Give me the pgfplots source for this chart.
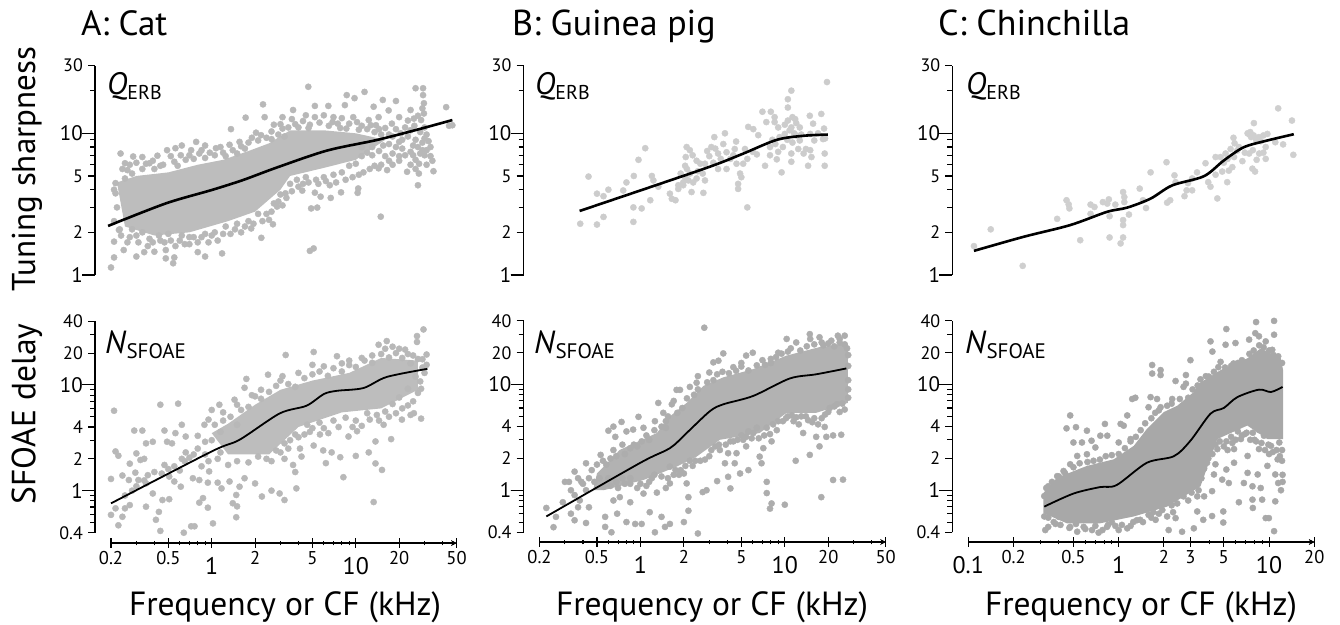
\documentclass[border=0pt]{standalone}
\usepackage{pgfplots}
\usepackage{fontspec}
\setmainfont{PT Sans}
\pgfplotsset{compat=1.18}
\definecolor{gAT}{gray}{0.72}
\definecolor{gATc}{gray}{0.74}
\definecolor{gAB}{gray}{0.72}
\definecolor{gABc}{gray}{0.74}
\definecolor{gBT}{gray}{0.80}
\definecolor{gBB}{gray}{0.68}
\definecolor{gBBc}{gray}{0.70}
\definecolor{gCT}{gray}{0.81}
\definecolor{gCB}{gray}{0.66}
\newcommand\fs[1]{\fontsize{#1}{#1}\selectfont}
\newcommand\Sm[1]{\raisebox{0pt}[14pt][0pt]{\fs{18.5}#1}}
\newcommand\Bg[1]{\raisebox{-10pt}[14pt][0pt]{\fs{24}#1}}
\newcommand\Sy[1]{{\fs{18}#1}}
\newcommand\By[1]{{\fs{21}#1}}
\pgfplotsset{
 rsbase/.style={scale only axis,clip=false,clip mode=individual,
  axis y line=left,
  axis line style={-,line width=1.3pt,black},
  tick style={black,line width=1.1pt},
  tick align=outside,
  xminorticks=false,yminorticks=false,
  major tick length=7pt,
  axis y line shift=16pt,
  extra y tick style={major tick length=13pt},
  yticklabel style={inner sep=0pt,anchor=east,xshift=-5pt},
  xticklabel style={inner sep=0pt,anchor=north,yshift=-4pt},
 },
 rstop/.style={rsbase,width=#1,height=209.3pt,ymin=1,ymax=30,axis x line=none,
  ytick={1,2,5,10,30},yticklabels={\By{1},\Sy{2},\Sy{5},\By{10},\Sy{30}},
  extra y ticks={1,10},extra y tick labels={,}},
 rsbot/.style={rsbase,width=#1,height=211.4pt,ymin=0.4,ymax=40,axis x line=bottom,
  axis x line shift=10.3pt,
  ytick={0.4,1,2,4,10,20,40},yticklabels={\Sy{0.4},\By{1},\Sy{2},\Sy{4},\By{10},\Sy{20},\Sy{40}},
  extra y ticks={1,10},extra y tick labels={,}},
 xab/.style={xmin=0.2,xmax=50},
 xticksab/.style={xtick={0.2,0.5,1,2,5,10,20,50},
  xticklabels={\Sm{0.2},\Sm{0.5},\Bg{1},\Sm{2},\Sm{5},\Bg{10},\Sm{20},\Sm{50}}},
 xc/.style={xmin=0.1,xmax=20},
 xticksc/.style={xtick={0.1,0.2,0.5,1,2,3,5,10,20},
  xticklabels={\Bg{0.1},\Sm{0.2},\Sm{0.5},\Bg{1},\Sm{2},\Sm{3},\Sm{5},\Bg{10},\Sm{20}}},
 overT/.style={ytick={3,4,6,7,8,9,20},yticklabels={},major tick length=5pt},
 overB/.style={ytick={0.5,0.6,0.7,0.8,0.9,3,5,6,7,8,9,30},yticklabels={},major tick length=5pt},
 minorXab/.style={xtick={0.3,0.4,0.6,0.7,0.8,0.9,3,4,6,7,8,9,30,40},xticklabels={}},
 minorXc/.style={xtick={0.3,0.4,0.6,0.7,0.8,0.9,4,6,7,8,9},xticklabels={}},
 longXab/.style={xtick={0.2,0.5,1,2,5,10,20,50},xticklabels={},ytick={1},yticklabels={},major tick length=10pt},
 longXc/.style={xtick={0.1,0.2,0.5,1,2,3,5,10,20},xticklabels={},ytick={1},yticklabels={},major tick length=10pt},
 rsdots/.style={only marks,color=#1,mark=*,mark size=3.1pt,mark options={solid,draw=#1,fill=#1,line width=0.4pt}},
 rscore/.style={fill=#1,draw=none,mark=none},
 fitT/.style={black,line width=2.6pt,mark=none,line join=round,smooth,tension=0.5},
 fitB/.style={black,line width=1.8pt,mark=none,line join=round,smooth,tension=0.5},
}
\begin{document}
\begin{tikzpicture}[x=1pt,y=1pt]
\path[use as bounding box] (0,0) rectangle (1340,624);
% ---------- A top
\begin{loglogaxis}[rstop=345.5pt,xab,at={(111pt,349pt)},anchor=south west]
\addplot[rscore=gATc] coordinates {(.22,4.5)(.3,5)(.5,5.3)(.8,6)(1.2,6.5)(1.8,7.5)(2.5,8.5)(3.5,10.5)(6,10.5)(10,10)(16,9)(10,6.5)(6,5.7)(3.5,5)(3,4)(2,2.8)(1.3,2.4)(.7,2)(.4,1.9)(.25,2.2)} --cycle;
\addplot[rsdots=gAT] coordinates {
(4.68,21.3)(26,20.8)(29.3,20.8)(29.3,18.6)(29.7,16.3)(11.5,19.6)(8.65,18.6)(9.8,17.7)(2.27,16)(1.72,12.9)(1.36,10.7)(2.33,13)(3.1,13)(3.67,14.6)(5.2,15.6)(6.45,15.6)(8.4,15.8)(15.4,17.2)(19,16.9)(13.3,15.4)(16.9,14.5)(20,13)(24,14.6)(42.4,15.3)(44.4,11.3)(46.8,11.4)(7,13)(9.6,13)(12.3,12.4)(14.4,13)(17.8,11.7)(29.7,13.8)(28.4,12.4)(25.3,12.7)
(14.9,2.58)(27,4.3)(34.6,5.4)(27.4,5.2)(22.7,5.35)(14.4,5.66)(11.3,5.3)(10.4,4.08)(10.3,3.8)(7.9,3.83)(6.7,3.5)(5.7,3.57)(5.2,3.81)(5.4,2.99)(4.9,2.95)(5.1,1.54)(4.8,1.48)(4.25,3.94)(3.25,3.77)(2.84,3.04)(2.66,2.28)(2.21,1.83)(1.88,2.13)(1.18,1.42)(.9,1.35)(.8,1.45)(.7,1.65)(.55,1.33)(.54,1.21)(.48,1.31)(.48,1.5)(.4,1.46)(.34,1.45)(.3,1.35)(.245,1.5)(.21,1.33)(.2,1.13)(.21,1.72)(.227,2.08)
(.233,7.2)(.285,6.86)(.33,6.8)(.37,6.15)(.42,6.95)(.49,7.6)(.56,7.85)(.62,8.2)(.78,8.7)(.9,8.2)(1.07,7.85)(.82,7.2)(.61,7)(.25,6.15)(.26,5.5)(.215,4.45)(.215,3.77)(1.33,8.3)(1.56,8.7)(2.03,10.1)(2.6,10.3)(3.1,10.8)
(.22,3)(.21,4)(.25,4.8)(.28,5.2)(.33,5.6)(.4,5.6)(.46,6)(.55,6.3)(.66,6.5)(.75,6.6)(.9,6.7)(1.05,7)(1.2,7.3)(1.4,7.6)(1.6,8.1)(1.8,8.6)(2.1,8.9)(2.4,9.3)(2.9,9.8)(3.4,11)(3.8,11.6)(4.3,12.2)(4.8,11.5)(5.6,11.9)(6.5,11.3)(7.5,11.7)(8.6,10.8)(10.5,10.6)(12,10.7)(13.5,10.2)(15,9.8)(18,9.5)(20,8.7)(23,9.5)(26,9)(27,8)(29,7.6)(30,7)(33,6.9)(34,6.4)(26,6.5)(27.5,6.1)(28,7.2)(22,7)(18,7.2)(16,6.9)(15.5,8.2)(13,8)(12,7.3)(11,6.9)(10,6.1)(9,5.9)(8,5.3)(7,5.1)(6,4.9)(5.3,4.7)(4.5,4.9)(3.9,4.7)(3.5,4.4)(3,3.7)(2.7,3.2)(2.4,2.7)(2.1,2.7)(1.8,2.4)(1.5,2.3)(1.25,2.2)(1.05,2)(.9,1.95)(.75,1.85)(.62,1.9)(.52,1.75)(.44,1.75)(.37,1.8)(.31,1.7)(.27,1.85)(.235,1.9)
(.21,2.4)(.23,2.1)(.26,1.7)(.28,2.1)(.3,1.9)(.33,2)(.36,1.6)(.39,1.7)(.43,1.9)(.47,1.7)(.5,1.95)(.56,1.6)(.6,1.75)(.65,1.65)(.7,1.85)(.8,1.7)(.85,1.85)(.95,1.7)(1,1.9)(1.1,1.75)(1.2,1.95)(1.35,1.95)(1.45,2.1)(1.6,2)(1.7,2.2)(1.95,2.3)(2.25,2.4)(2.5,2.45)(2.6,2.8)(2.9,3.3)(3.1,3.1)(3.3,3.5)(3.6,3.9)(4,4.2)(4.3,4.4)(4.7,4.5)(5.5,4.4)(6.2,4.6)(6.6,4.3)(7.3,4.5)(8.5,4.7)(9.5,4.9)(10.5,5.1)(12.5,5.6)(13.5,5.9)(15,6)(16.5,5.5)(18,6)(20,6.4)(21,7.8)(24,7.4)(25,8.2)(31,7.6)(32,8.8)(30,9.2)(33,8)
(.24,5.6)(.27,6)(.3,6.2)(.35,6.1)(.39,6.4)(.44,5.9)(.52,6.9)(.58,5.9)(.7,7)(.72,7.6)(.85,7.6)(.97,7.3)(1.15,8)(1.25,6.9)(1.5,7.2)(1.7,7.8)(1.9,9.3)(2.2,9.7)(2.6,9.1)(2.7,11.5)(3,11.6)(3.2,9.5)(3.6,12.6)(4,11)(4.5,13.4)(4.7,10.9)(5.2,13)(6,13.4)(6.9,12)(7.8,10.9)(8,12.8)(9,11.7)(10.2,12)(11,11.3)(12.7,11.4)(13.8,11.4)(14.5,10.7)(16,10.9)(17,9.8)(19,10.7)(20.5,10)(22,11)(24,10.5)(25.5,11.3)(28,10.2)(30,11)(31,9.8)(27,13.3)(29,15)(23,12.3)
(11,8)(13,7)(14.5,7.5)(17,8.4)(19,8)(21,9)(25,7)(29,8.6)(31,6)(26,5.6)(24,6)(17,6.4)(20,6.9)
};
\addplot[fitT] coordinates {(.191,2.22)(.48,3.2)(1,3.98)(1.65,4.68)(2.81,5.72)(6.3,7.55)(14,8.97)(26.6,10.6)(46.8,12.4)};
\end{loglogaxis}
\begin{loglogaxis}[rstop=345.5pt,xab,overT,at={(111pt,349pt)},anchor=south west]
\end{loglogaxis}
% ---------- A bottom
\begin{loglogaxis}[rsbot=345.5pt,xab,xticksab,at={(111pt,91.3pt)},anchor=south west]
\addplot[rscore=gABc] coordinates {(1,3.5)(1.3,4.3)(2,6.5)(3,9)(5,11)(9,13)(15,18)(27,17)(27,9)(15,6)(8,5.5)(4,4)(2.5,2.2)(1.3,2.2)} --cycle;
\addplot[rsdots=gAB] coordinates {
(.21,5.7)(.44,6.5)(.585,6.65)(.29,3.7)(.33,3.7)(.47,3.7)(.62,4.2)(.56,3.5)(.66,3.25)(.35,2.8)(.39,2.9)(.49,2.9)(.53,2.8)(.215,2.35)(.225,2.14)(.3,2.25)(.34,2)(.32,1.95)(.27,1.8)(.295,1.48)(.2,1.29)(.24,1.39)(.266,1.26)(.31,1.26)(.35,1.17)(.47,1.75)(.507,1.36)(.55,1.22)(.61,1.09)(.74,1.31)(.82,1.26)(.94,1.19)(.96,1.52)(1.1,1.19)(1.17,1.05)(1.33,1.22)(1.56,1.09)(1.69,1.31)(2,1.17)(2.6,1)(2.96,.94)(2.23,.88)(3.2,.815)(1.48,.91)(1.4,.76)(1.5,.71)(1.48,.56)(1.02,.49)(.76,.46)(.72,.46)(.64,.4)(.44,.416)(.41,.53)(.43,.63)(.455,.815)(.507,.83)(.39,.94)(.35,.705)(.27,.73)(.25,.68)(.215,.68)(.2,.59)(.24,.566)(.225,.47)(.94,.69)(.82,.77)(.87,.85)
(13.3,.78)(15.2,1.57)(13.7,1.81)(12.3,2.3)(13.7,2.92)(8.2,1.34)(10,2.13)(6.2,1.82)(7.8,2.07)(6.8,2.3)(5.94,2.4)(5.1,2.67)(3.87,1.05)(3.8,1.5)(3.67,1.75)(4.2,2.1)(4.1,2.5)(3.2,2)(4.8,3.6)(5.64,3.4)(6.45,3.5)(8.9,3.25)(10.2,3.65)(15.6,4.2)(17.6,3.07)(20.9,4.7)(28.4,4.8)(25.3,5.4)(28.4,9.2)(31,19.4)(29.5,33.5)(26.6,29)(26.6,25.5)(16.4,26)(14.4,24)(22,21.6)(7.4,18.7)(5.1,20.5)(3.26,19.2)(2.46,12.5)(3.1,12.1)(1.74,11.4)(2,7.8)(1.69,9.4)(1.44,7.25)(1.13,6.5)(1,5.8)(.89,4.2)
(1,3)(1.05,4.2)(1.15,3.6)(1.2,4.6)(1.35,5)(1.5,4.2)(1.6,5.8)(1.8,6.2)(2.2,7.4)(2.5,8.6)(2.8,9.8)(3.4,10.2)(3.8,9.6)(4.4,11.6)(5,12.6)(5.6,13.4)(6.4,12.2)(7,14.4)(8,13.4)(9,15.4)(10,14.8)(11.5,17)(13,16.2)(15,19.6)(17,18.2)(19,20)(21,18)(24,16)(27,17.6)(29,14.6)(26,12)(28,10.8)(23,9.2)(20,7.6)(18,6.6)(16,5.6)(14,5.2)(12,5.4)(10,4.6)(8.5,4.9)(7,4.6)(5.6,4.4)(4.6,4.2)(3.8,3.4)(3.2,2.8)(2.8,2.4)(2.4,2)(2.1,2.1)(1.8,1.85)(1.5,1.9)(1.3,1.75)(1.1,2)(.95,1.9)(1.15,2.3)
(.25,.9)(.28,1)(.3,1.1)(.34,1.25)(.36,1.4)(.4,1.5)(.45,1.45)(.5,1.6)(.55,1.7)(.6,1.55)(.62,2)(.66,2.3)(.7,2.05)(.75,2.2)(.8,2.5)(.85,1.7)(.9,2.2)(.65,1.9)
(2.6,1.9)(3,2.3)(3.4,2.5)(3.5,3)(4,3.2)(4.4,3.4)(5,3.9)(6,3.9)(7.6,4)(9.5,4)(11,4.1)(12.5,4.7)(14.5,4.6)(17,5)(19,5.4)(21,6)(23,6.4)(25,7)(27,8.4)(24,5.2)(30,13)(31,15.5)(29,17.5)(25,19)(23,19.6)(20,22)(18,23)(16,22)(13,19)(11,18)(9,17)(8,16)(6,15)(5,15.5)(4,13)(3,11)(2.2,9)(1.9,8)(1.5,6.5)(1.2,5.5)(.95,4.7)(.8,3.3)(.9,2.9)
};
\addplot[fitB] coordinates {(.2,.758)(1,2.35)(1.56,3.03)(2.96,5.37)(4.55,6.36)(6,8.2)(7.4,8.8)(11.3,9.35)(16.4,11.9)(31.4,14.2)};
\end{loglogaxis}
\begin{loglogaxis}[rsbot=345.5pt,xab,overB,minorXab,at={(111pt,91.3pt)},anchor=south west]
\end{loglogaxis}
\begin{loglogaxis}[rsbot=345.5pt,xab,longXab,at={(111pt,91.3pt)},anchor=south west]
\end{loglogaxis}
% ---------- B top
\begin{loglogaxis}[rstop=346.2pt,xab,at={(539.5pt,349pt)},anchor=south west]
\addplot[rsdots=gBT] coordinates {
(.383,2.3)(.5,2.27)(.555,2.57)(.894,2.37)(.437,4.95)(.5,3.75)(.6,4)(.555,3.6)(.894,3)(1.02,2.95)(1.17,3.37)(1.6,3.75)(1.65,3.45)(1.75,3.37)(1.83,4.05)(1.98,4.3)(2.26,3.85)(2.73,3.8)(2.8,4.65)(.76,3.95)(.8,4.5)(.9,5)(.97,6.5)(1.08,7.85)(1.2,5)(1.23,4.65)(1.33,4.2)(2.09,8)(2.06,6.8)(2.04,5.9)(2.2,7.6)(2.3,7)(2.45,6.4)(2.6,6.1)(2.8,6.1)(2.04,4.9)(2.15,4.65)(2.32,4.5)(2.45,4.8)(1.98,4.5)(1.83,4.3)(3.25,9.4)(3.85,10)(3.1,8)(3,6.9)(3.45,7.2)(3.75,8.4)(4.6,8.75)(4.5,7.75)(3.95,7.35)(3.45,5.6)(3.95,5.6)(4.63,6.1)(5.15,6.1)(5.3,7.75)(4.9,5.2)(5,4.9)(4.75,4.4)(4.75,4.05)(5.5,3)(5.58,11.1)(6.05,10.7)(6.55,9.7)(7,14.2)(8,14.2)(7.3,5.9)(6.4,7.1)(7.45,12)(8.5,12)(8.5,13)(9,11)(9.5,5.3)(8.8,6.55)(10.5,17.4)(10.5,15.2)(11.1,20)(10.5,12.3)(11.8,12.6)(12.7,11)(11.1,11)(10,9.9)(11.1,6.3)(11.1,7.2)(14.5,5.9)(14.9,13.3)(17.9,13.7)(15.7,11.7)(18.9,5.9)(18.9,7.2)(19.6,23)(18.7,10.8)(14,7.75)(12.4,7.75)(12.7,8.9)(16,8.9)(18.4,9.1)(7.9,8)(7.9,7)(9.7,8)
(10,11.5)(10.8,10.5)(11.6,10)(12.2,9.6)(10.4,9)(11.3,8.6)(9.2,9.4)(8.6,8.4)(8.2,9)(9,7.4)(13.5,7.2)(15,7.6)(15.3,6.8)(13,9.8)(15,9.9)(17,10)(19,9.2)(11.3,13)(12,11.8)
(2.5,5.4)(2.2,5.2)(1.9,5.2)(2.1,5.6)(2.7,5.2)(3.2,6.2)(3.6,6.6)(4.2,6.6)(4.4,7)(3.3,7.8)(2.9,7.5)(5.5,6.6)(6,7.4)
};
\addplot[fitT] coordinates {(.379,2.83)(2.73,5.6)(5,7.1)(8.76,8.98)(13.4,9.6)(19.9,9.8)};
\end{loglogaxis}
\begin{loglogaxis}[rstop=346.2pt,xab,overT,at={(539.5pt,349pt)},anchor=south west]
\end{loglogaxis}
% ---------- B bottom
\begin{loglogaxis}[rsbot=346.2pt,xab,xticksab,at={(539.5pt,91.7pt)},anchor=south west,axis x line shift=9.7pt]
\addplot[rscore=gBBc] coordinates {(.5,1.44)(.72,2.41)(1.3,3.48)(1.6,5)(2.09,6.7)(2.73,9.7)(3.75,11.7)(6.04,14)(10.3,18.8)(17.4,22.6)(27.3,24.3)(27.3,6.7)(16.5,5.4)(10.3,5.4)(6.7,3.48)(3.55,3)(2.45,2.08)(1.78,1.67)(1.05,1.25)(.555,1)(.47,1)} --cycle;
\addplot[rsdots=gBB] coordinates {
(2.77,34.5)(14.9,30)(10.3,27)(17.4,28)(23.3,29)(26,29)(3.75,19.7)(5.4,18.8)(6,20)(3.2,16.2)(3.47,16.8)(2.45,10.4)(1.88,8.9)(1.78,8.9)(1.65,6.5)(1.33,6.7)(.97,4.95)(1.44,5.4)(1.26,4.5)(1.05,3.9)(.89,3.75)(.74,4.43)(.65,4)(.6,3.66)(.67,3.2)(.8,3.6)
(.223,.68)(.25,.447)(.29,.77)(.32,1.2)(.35,1.5)(.42,1.8)(.53,2.16)(.65,2.4)(.26,.56)(.33,.6)(.35,.52)(.42,.49)(.37,.69)(.44,.69)(.57,.56)(.57,.45)(.63,.4)(.69,.6)(.8,.5)(.92,.48)(1.02,.48)(1.26,.4)(1.48,.45)(1.6,.48)(2,.5)(2.5,.39)(1.4,.56)(1.16,.62)(2.15,.64)(2.15,.86)(2.7,.96)(2.87,1)(3.4,1.22)(4.2,1.04)(4.05,1.34)(4.9,1.44)(5.6,1.55)(3.85,1.8)(4.5,1.8)(4.63,2.24)(4.05,2.24)(3.55,2.4)(7.5,1.2)(7.5,.94)(8.1,.75)(7.9,.67)(10,.73)(17.9,.86)(21.6,1.25)(25.3,1.26)(11.9,1.9)(14.9,2.16)(17.4,2.6)(16.5,3.2)(18.9,3.97)(19.4,3.2)(21.6,3.3)(24.6,3.35)(13.4,3.48)(6.9,1.8)(6.7,2.08)(7.1,2.5)(8.1,2.9)(5.4,2.6)(5.15,3)(6.05,3.48)(2,1.44)(2.09,1.16)(1.6,1.67)(1.6,1.16)(1.05,.93)(.85,.77)(.72,.86)(.65,.8)(.555,1.08)(.38,.8)(.42,1)
(.3,1.2)(.33,1)(.37,1.3)(.4,1.15)(.46,1.55)(.5,1.75)(.55,1.9)(.62,1.1)(.7,1.05)(.75,1.3)(.85,1.15)(.95,1.05)(1.1,1.1)(1.2,1.3)(1.3,.95)(1.5,1.05)(1.7,1.4)(1.9,1.55)(2.3,1.7)(2.6,1.9)(3,2.1)(3.3,2.6)(3.9,2.7)(4.4,2.9)(5,3.3)(5.6,3.6)(6.4,3.9)(7.5,3.9)(8.3,4.2)(9,4.5)(10.2,4.8)(11.5,4.5)(12.5,4.2)(14,5)(15.5,4.4)(17,4.2)(18,4.8)(20,5.5)(22,6.2)(24,5.5)(26,5.8)(27.5,7.5)(27.5,9)(27.5,11)(27.5,15)(27.5,19)(27,22)(24,25)(21,26)(18,25)(15,27)(12,25)(11,22)(9,20)(8,17.5)(7,17)(5,16)(4.4,14.6)(3,13)(2.5,12)(2.2,9.5)(1.7,7)(1.5,4.5)(1.1,3.3)(.9,2.7)(.75,2.7)(.58,1.75)
(.62,2)(.68,2.1)(.78,2.2)(.85,2.5)(.95,2.6)(1.02,2.9)(1.15,3)(1.25,3.7)(1.4,4)(1.5,3.9)(1.55,5)(1.8,5.4)(1.95,6)(2.1,7.4)(2.35,8)(2.5,9)(2.9,10.5)(3.2,11)(3.4,12.5)(3.7,13.2)(4.1,12.8)(4.6,13.5)(5,14.8)(5.6,13.6)(6.4,15.2)(7.3,15.4)(8,16)(8.7,18.2)(9.5,19.6)(10.5,20.5)(12.8,21)(14.2,23)(16,24)(18.5,23.5)(20,24.5)(22,23)(24,27)(26,24)
(.35,.9)(.39,1.2)(.44,1.3)(.48,1.2)(.52,1.3)(.6,1.3)(.68,1.2)(.78,1.15)(.85,1.3)(1,1.15)(1.15,1.2)(1.25,1.4)(1.4,1.35)(1.55,1.3)(1.75,1.55)(1.85,1.4)(2.05,1.7)(2.2,1.9)(2.4,1.9)(2.8,1.95)(3.1,2.4)(3.5,2.7)(4.2,2.9)(4.7,3)(5.4,3.2)(5.9,3.1)(6.6,3.1)(7.2,3.3)(7.9,3.4)(8.8,3.7)(9.7,4.5)(10.5,5)(11.2,5.1)(12,4.9)(13,5)(14.5,4.6)(16,4.8)(19,5.2)(20.5,6)(23,6.5)(25,6.6)
};
\addplot[fitB] coordinates {(.223,.565)(1,1.82)(1.6,2.5)(2.09,3.48)(3.03,5.6)(3.75,6.5)(6.04,7.8)(10.8,11.4)(16.5,12.5)(26.7,14.2)};
\end{loglogaxis}
\begin{loglogaxis}[rsbot=346.2pt,xab,overB,minorXab,at={(539.5pt,91.7pt)},anchor=south west,axis x line shift=9.7pt]
\end{loglogaxis}
\begin{loglogaxis}[rsbot=346.2pt,xab,longXab,at={(539.5pt,91.7pt)},anchor=south west,axis x line shift=9.7pt]
\end{loglogaxis}
% ---------- C top
\begin{loglogaxis}[rstop=346pt,xc,at={(968.3pt,349pt)},anchor=south west]
\addplot[rsdots=gCT] coordinates {
(.109,1.6)(.141,2.1)(.23,1.16)(.39,2.49)(.45,3.37)(.465,3.15)(.47,2.95)(.555,1.76)(.65,3.14)(.69,3.02)(.65,2.7)(.785,3.27)(.86,3.42)(.84,3.19)(.95,3.14)(.87,2.6)(.87,1.84)(1.07,3.85)(1.09,3.55)(1.09,3.27)(1.07,2.44)(1.07,2.25)(1.07,1.84)(1.03,1.67)(1.17,2.67)(1.38,4.07)(1.45,3.37)(1.52,2.97)(1.63,5.3)(2.08,6.25)(2.1,3.24)(2.2,3.37)(2.35,5.05)(2.39,4.52)(2.74,3.6)(2.83,3.96)(3.08,3.96)(2.89,4.45)(3.08,4.8)(3.32,5.3)(3.78,6.15)(3.94,4.52)(4.08,4.2)(4.53,3.47)(4.41,5.1)(4.88,5.37)(5.27,4.52)(4.41,6.8)(4.76,6.8)(5.14,7.2)(5.55,7.75)(5.4,5.45)(5.7,5.77)(5.8,9.3)(5.85,6.8)(6.15,7.56)(6.65,6.36)(7.37,7.2)(7.75,5.63)(8.07,5.37)(7.93,11.8)(7.5,10.2)(7.9,9.66)(8.56,9.4)(7.6,9.4)(9.17,7.3)(8.27,6.5)(9.5,6.6)(9.5,8)(9.75,9.9)(9.17,9.66)(11,8.65)(12.4,8.35)(11.5,15)(14.2,12.3)(14.5,7.05)
(7.2,10)(7.4,9.8)(8.2,9)(8.8,8.8)(5.9,8.5)(6.3,8)(5,6.2)(5.3,6.6)(6.9,7.3)(7.8,7.6)(8.6,7.2)
};
\addplot[fitT] coordinates {(.109,1.48)(.233,1.86)(.476,2.25)(.836,2.79)(1.14,2.99)(1.63,3.46)(2.27,4.29)(3.69,4.98)(5,6.43)(6.8,7.98)(9.75,8.9)(14.6,9.85)};
\end{loglogaxis}
\begin{loglogaxis}[rstop=346pt,xc,overT,at={(968.3pt,349pt)},anchor=south west]
\end{loglogaxis}
% ---------- C bottom
\begin{loglogaxis}[rsbot=346pt,xc,xticksc,at={(968.3pt,91.7pt)},anchor=south west,axis x line shift=9.7pt]
\addplot[rscore=gCB] coordinates {(.316,.943)(.388,1.31)(.615,1.7)(.926,1.96)(1.26,2.63)(1.54,3.8)(2,5.5)(2.45,6.3)(3.16,8.5)(3.41,10.2)(4.76,13.7)(7.17,17.7)(8.81,22)(11.96,17.7)(12.4,13.7)(12.4,3.05)(9.75,3.05)(7.17,4.09)(4.53,3.05)(3.5,1.09)(2.1,.7)(1.26,.565)(.755,.487)(.452,.487)(.316,.607)} --cycle;
\addplot[rsdots=gCB] coordinates {
(.476,5.1)(.45,3.85)(.52,3.95)(.615,3.66)(.5,2.83)(.57,2.83)(.66,2.94)(.755,3.28)(.81,4.24)(.84,3.28)(.7,2.54)(.615,2.19)(.53,2.11)(.476,1.76)(.43,1.52)(.39,1.36)(.34,1.09)(.32,.88)(1.03,4.24)(1.14,5.1)(1.23,7.3)(1.29,7.5)(1.08,4.08)(1,2.83)(1.2,3.05)(1.58,6.1)(1.63,7.6)(1.67,15.3)(1.67,12.7)(1.9,13.7)(1.9,12.3)(1.8,7.3)(1.9,6.1)(2.39,10.8)(2.7,9.5)(2.8,12.3)(3,17)(2.8,10.2)(3.16,6.3)(2.27,7.3)(4.08,25.6)(4.2,20.5)(5.2,33.5)(5.14,23.8)(5.98,24.7)(7.37,26.6)(8.2,39)(8.1,30.6)(8.57,28.6)(9.5,25.6)(10.8,40)(10.8,29.6)(10.5,21.3)(6.8,15.8)(4.76,16.4)(3.98,11.9)(5.8,15.8)
(.325,.42)(.34,.45)(.32,.565)(.43,.545)(.476,.45)(.53,.405)(.585,.45)(.665,.42)(.735,.397)(.836,.45)(1,.42)(1.14,.436)(1.39,.525)(1.58,.585)(1.76,.525)(2.15,.42)(2.39,.545)(2.64,.405)(3.16,.436)(3.33,.63)(3.65,.525)(4.18,.57)(4.96,.63)(4.96,.495)(3.33,.875)(3.7,.875)(4.18,.98)(6.3,.77)(7.76,.815)(7.8,.68)(9,.815)(9.5,.545)(9.97,.545)(10.8,.41)(11,.785)(12,1)(11.5,1.17)(11,1.41)(8.8,1.05)(7.76,1.09)(6.8,1.17)(5.4,1.17)(4.88,1.26)(5.2,1.57)(4.4,1.76)(4.3,1.41)(5.85,1.82)(7.2,1.46)(8.4,1.41)(9.75,1.7)(11.4,1.96)(5.85,2.45)(7.2,2.11)(8.57,2.45)(10.3,2.63)(11.7,2.83)(3.87,1.82)(3.5,1.57)(3.16,1.17)(2.7,.875)(2.1,.565)(4.53,2.45)(6.5,3.05)(9.25,3.28)
(5.2,2.9)(5.6,3.2)(6.2,3.6)(6.9,3.4)(7.8,3.5)(8.6,3.7)(9.9,2.7)(11,3.3)(12.2,2.4)(12.2,1.9)(4.1,3.2)(3.8,2.4)(.4,.56)(.38,.48)(.6,.55)(.9,.5)(1.25,.5)(1.7,.62)(2.3,.62)(2.9,.8)(3.4,1)
(.33,1.05)(.36,1.2)(.4,1.35)(.44,1.45)(.5,1.65)(.55,1.8)(.62,1.85)(.68,1.9)(.75,1.95)(.82,2.1)(.9,2.15)(1,2.2)(1.1,2.5)(1.2,2.9)(1.3,3.2)(1.4,3.7)(1.5,4.3)(1.65,4.8)(1.75,5.4)(1.85,5.7)(2.1,6.3)(2.25,6.6)(2.55,7.3)(2.9,7.5)(3.1,9)(3.35,9.8)(3.5,11.2)(3.8,12)(4.3,13.2)(4.6,14.6)(5.1,14.5)(5.6,15)(6.2,16)(6.6,17)(7.4,19.5)(7.9,21)(8.6,23.5)(9.2,22.5)(10,21)(10.7,19)(11.5,18.5)(12.2,16)
(.34,.55)(.37,.5)(.41,.47)(.47,.44)(.52,.48)(.6,.43)(.7,.46)(.78,.42)(.85,.47)(.95,.46)(1.05,.47)(1.2,.46)(1.32,.52)(1.45,.5)(1.65,.55)(1.85,.6)(1.95,.65)(2.25,.72)(2.45,.75)(2.6,.9)(2.85,1)(3.05,.95)(3.3,1.2)(3.55,1.3)(3.7,1.6)(3.95,2)(4.2,2.2)(4.4,2.7)(4.7,2.9)(5,2.6)(5.3,2.4)(5.7,2.8)(6,3)(6.6,3.3)(7.1,3.5)(7.5,3)(8,3)(8.2,2.9)(8.9,2.8)(9.4,2.4)(10,2.2)(10.6,2.3)(11.2,2.4)(11.8,2.1)(12.3,1.4)(12.3,1.2)
};
\addplot[fitB] coordinates {(.32,.7)(.5,.93)(.75,1.07)(.97,1.12)(1.54,1.82)(2.33,2.1)(3,2.94)(4.08,5.3)(5,6)(6.15,7.6)(8.57,8.95)(10.3,8.5)(12.3,9.5)};
\end{loglogaxis}
\begin{loglogaxis}[rsbot=346pt,xc,overB,minorXc,at={(968.3pt,91.7pt)},anchor=south west,axis x line shift=9.7pt]
\end{loglogaxis}
\begin{loglogaxis}[rsbot=346pt,xc,longXc,at={(968.3pt,91.7pt)},anchor=south west,axis x line shift=9.7pt]
\end{loglogaxis}
% ---------- text
\node[anchor=base west,inner sep=0pt,font=\fs{35}] at (81,588) {A: Cat};
\node[anchor=base west,inner sep=0pt,font=\fs{36}] at (512,588) {B: Guinea pig};
\node[anchor=base west,inner sep=0pt,font=\fs{36}] at (938,588) {C: Chinchilla};
\node[rotate=90,font=\fs{33},inner sep=0pt] at (27,455) {Tuning sharpness};
\node[rotate=90,font=\fs{33.5},inner sep=0pt] at (27,210) {SFOAE delay};
\foreach \x in {285,712,1141}{\node[font=\fs{33.5},inner sep=0pt,anchor=base] at (\x,9) {Frequency or CF (kHz)};}
\foreach \x in {107,535,966}{\node[anchor=base west,inner sep=0pt,font=\fs{31}] at (\x,529) {\textit{Q}\raisebox{-5pt}{\fs{20}ERB}};}
\foreach \x in {105,534,965}{\node[anchor=base west,inner sep=0pt,font=\fs{32}] at (\x,270) {\textit{N}\raisebox{-5pt}{\fs{21}SFOAE}};}
\end{tikzpicture}
\end{document}
